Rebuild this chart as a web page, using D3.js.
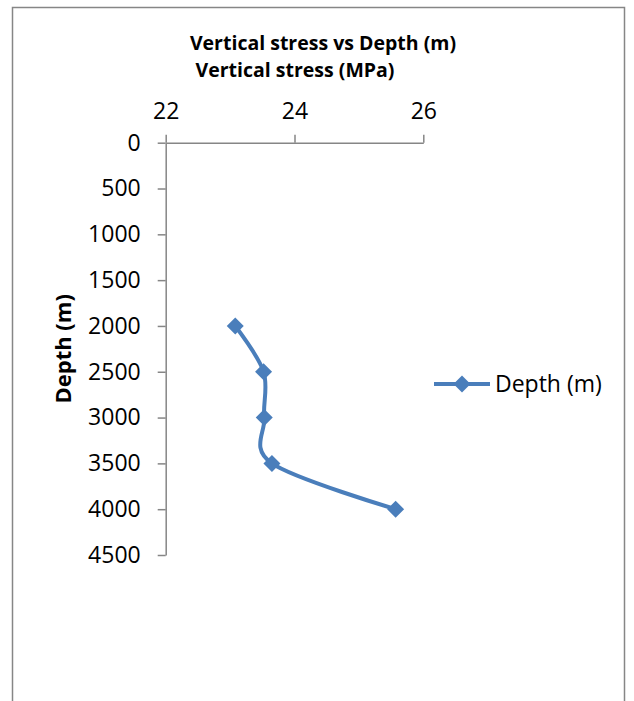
<!DOCTYPE html>
<html>
<head>
<meta charset="utf-8">
<script src="https://cdn.jsdelivr.net/npm/d3@7"></script>
<style>
  html, body { margin: 0; padding: 0; background: #fff; }
  text { font-family: "Open Sans", "Liberation Sans", sans-serif; fill: #000; }
</style>
</head>
<body>
<svg id="chart" width="634" height="701"></svg>
<script>
// data
const seriesName = 'Depth (m)';
const depths = [2000, 2500, 3000, 3500, 4000];
const stress = [23.08, 23.52, 23.53, 23.65, 25.57];
const xTicks = [22, 24, 26];
const yTicks = [0, 500, 1000, 1500, 2000, 2500, 3000, 3500, 4000, 4500];

const chartTitle = 'Vertical stress vs Depth (m)';
const xTitle = 'Vertical stress (MPa)';
const yTitle = 'Depth (m)';

const blue = '#4a7ebb';
const grey = '#868686';

const svg = d3.select('#chart');

// outer chart frame (runs off the bottom like the reference)
svg.append('rect')
  .attr('x', 12.5).attr('y', 7.5)
  .attr('width', 612).attr('height', 720)
  .attr('fill', 'none')
  .attr('stroke', grey)
  .attr('stroke-width', 1.5);

const plot = { left: 165.7, top: 142.7, right: 423.3, bottom: 555 };

const x = d3.scaleLinear().domain([22, 26]).range([plot.left, plot.right]);
const y = d3.scaleLinear().domain([0, 4500]).range([plot.top, plot.bottom]);

// top x axis
const xAxis = svg.append('g')
  .attr('transform', `translate(0,${plot.top})`)
  .call(d3.axisTop(x).tickValues(xTicks).tickFormat(d3.format('d'))
    .tickSize(8).tickSizeOuter(0).tickPadding(16));

// left y axis
const yAxis = svg.append('g')
  .attr('transform', `translate(${plot.left},0)`)
  .call(d3.axisLeft(y).tickValues(yTicks).tickFormat(d3.format('d'))
    .tickSize(8).tickSizeOuter(0).tickPadding(17));

[xAxis, yAxis].forEach(ax => {
  ax.select('.domain').attr('stroke', grey).attr('stroke-width', 1.5);
  ax.selectAll('.tick line').attr('stroke', grey).attr('stroke-width', 1.5);
  ax.selectAll('.tick text')
    .attr('fill', '#000')
    .style('font-family', '"Open Sans", sans-serif')
    .style('font-size', '23px');
});
xAxis.selectAll('.tick text').attr('dy', 0);

// titles
svg.append('text')
  .attr('x', 323).attr('y', 50)
  .attr('text-anchor', 'middle')
  .style('font-size', '19.5px').style('font-weight', 'bold')
  .text(chartTitle);

svg.append('text')
  .attr('x', 295).attr('y', 77)
  .attr('text-anchor', 'middle')
  .style('font-size', '19.5px').style('font-weight', 'bold')
  .text(xTitle);

svg.append('text')
  .attr('transform', `translate(71,${(plot.top + plot.bottom) / 2}) rotate(-90)`)
  .attr('text-anchor', 'middle')
  .style('font-size', '22px').style('font-weight', 'bold')
  .text(yTitle);

// diamond marker, square rotated 45 degrees
const diamond = {
  draw(ctx, size) {
    const r = Math.sqrt(size) / 2;
    ctx.moveTo(0, -r);
    ctx.lineTo(r, 0);
    ctx.lineTo(0, r);
    ctx.lineTo(-r, 0);
    ctx.closePath();
  },
};
const marker = d3.symbol().type(diamond).size(17 * 17);

const points = depths.map((d, i) => ({ depth: d, stress: stress[i] }));

const line = d3.line()
  .x(d => x(d.stress))
  .y(d => y(d.depth))
  .curve(d3.curveCardinal.tension(0));

svg.append('path')
  .datum(points)
  .attr('d', line)
  .attr('fill', 'none')
  .attr('stroke', blue)
  .attr('stroke-width', 4)
  .attr('stroke-linejoin', 'round');

svg.selectAll('.pt')
  .data(points)
  .enter().append('path')
  .attr('class', 'pt')
  .attr('transform', d => `translate(${x(d.stress)},${y(d.depth)})`)
  .attr('d', marker)
  .attr('fill', blue);

// legend
const legend = svg.append('g').attr('transform', 'translate(434,384)');
legend.append('line')
  .attr('x1', 0).attr('x2', 56)
  .attr('stroke', blue).attr('stroke-width', 4);
legend.append('path')
  .attr('transform', 'translate(28,0)')
  .attr('d', marker)
  .attr('fill', blue);
legend.append('text')
  .attr('x', 61).attr('y', 8)
  .style('font-size', '23px')
  .text(seriesName);
</script>
</body>
</html>
